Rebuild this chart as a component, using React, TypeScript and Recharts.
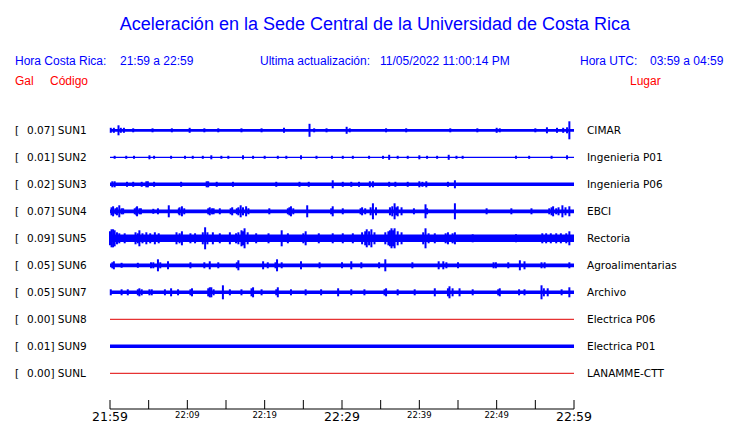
import { Area, ComposedChart, ErrorBar, Line, Scatter, XAxis, YAxis } from "recharts";

const codes = ["SUN1", "SUN2", "SUN3", "SUN4", "SUN5", "SUN6", "SUN7", "SUN8", "SUN9", "SUNL"];
const places = [
  "CIMAR",
  "Ingenieria P01",
  "Ingenieria P06",
  "EBCI",
  "Rectoria",
  "Agroalimentarias",
  "Archivo",
  "Electrica P06",
  "Electrica P01",
  "LANAMME-CTT",
];
const peakGal = [0.07, 0.01, 0.02, 0.07, 0.09, 0.05, 0.05, 0.0, 0.01, 0.0];
// half width of the steady background noise of each trace
const noiseLevel = [1.4, 0.6, 1.8, 1.9, 3.8, 1.9, 1.8, 0, 1.8, 0];

const minuteTicks = [0, 5, 10, 15, 20, 25, 30, 35, 40, 45, 50, 55, 60];
const tickLabels = ["21:59", "", "22:09", "", "22:19", "", "22:29", "", "22:39", "", "22:49", "", "22:59"];
const bigLabels = ["21:59", "22:29", "22:59"];

// bursts: [minute after 21:59, half amplitude]
const sun1Bursts = [
  [0.1, 2.5], [0.5, 2.5], [1.1, 5], [1.4, 2.5], [1.8, 2.5], [3.0, 2], [5.5, 2], [8.0, 2],
  [10.3, 2.5], [12.2, 2], [14.0, 2], [17.0, 2], [19.6, 2], [22.5, 2.5], [25.8, 6.5], [26.4, 2],
  [28.0, 2], [30.6, 3.5], [31.0, 2], [35.7, 2], [38.3, 2], [44.0, 2], [47.5, 2], [50.0, 2.5],
  [50.4, 2], [55.0, 2], [56.5, 3], [57.8, 2.5], [58.6, 2.5], [59.1, 3], [59.4, 9],
];
const sun2Bursts = [
  [0.6, 1.5], [2.1, 1.5], [3.1, 1.5], [5.1, 2], [5.7, 1.5], [7.9, 1.5], [9.7, 1.5], [10.7, 1.5],
  [12.0, 1.5], [13.1, 2], [14.4, 1.5], [15.3, 1.5], [17.2, 2], [18.5, 1.5], [20.0, 1.5], [21.7, 1.5],
  [22.8, 1.5], [24.7, 2], [26.7, 1.5], [28.7, 1.5], [30.1, 1.5], [31.4, 1.5], [33.5, 1.5], [35.3, 1.5],
  [36.1, 2.5], [37.2, 1.5], [38.5, 1.5], [40.0, 2], [41.0, 1.5], [42.3, 1.5], [43.8, 2.5], [44.8, 1.5],
  [45.6, 1.5], [52.5, 1.5], [54.2, 1.5], [57.1, 1.5], [59.1, 2],
];
const sun3Bursts = [
  [0.3, 3], [0.6, 3], [2.2, 2.5], [3.0, 2.5], [4.1, 2.5], [4.7, 3], [4.9, 3], [5.7, 2.5],
  [9.2, 2.5], [12.5, 3], [12.7, 3], [13.8, 2.5], [15.9, 2.5], [21.5, 2.5], [24.5, 2.5], [25.7, 2.5],
  [28.8, 4], [30.1, 2.5], [31.2, 2.5], [32.2, 2.5], [33.6, 3], [34.0, 3], [36.1, 2.5], [36.9, 2.5],
  [38.5, 2.5], [40.0, 3], [40.4, 2.5], [40.9, 3], [43.7, 2.5], [44.6, 4],
];
const sun4Bursts = [
  [0.2, 4], [0.4, 5], [0.7, 3], [0.9, 4], [1.2, 6], [1.5, 3], [1.7, 3], [3.2, 3], [3.4, 4],
  [3.5, 5], [3.8, 3], [4.0, 3], [5.6, 2.5], [6.2, 3], [7.6, 6], [8.9, 3], [9.0, 4], [9.3, 5],
  [9.6, 3], [12.7, 3], [12.9, 4], [13.2, 3], [13.4, 3], [14.2, 3], [15.6, 3], [15.8, 4], [16.4, 3],
  [16.6, 4], [16.9, 6], [17.2, 4], [17.6, 5], [17.9, 3], [20.6, 3], [23.0, 3], [23.2, 4], [23.4, 5],
  [23.7, 3], [25.5, 6], [28.6, 3], [28.8, 5], [30.1, 3], [32.4, 3], [32.6, 4], [33.0, 3], [33.7, 4],
  [34.0, 8], [34.4, 4], [36.2, 4], [36.5, 5], [36.8, 8], [37.0, 4], [37.2, 5], [37.7, 4], [39.3, 3],
  [40.8, 7], [41.0, 3], [44.6, 8], [48.7, 3], [51.9, 3], [54.5, 3], [56.8, 3], [57.1, 4], [57.3, 5],
  [57.7, 3], [58.0, 4], [58.5, 6], [58.9, 4], [59.4, 5],
];
const sun5Bursts = [
  [0.0, 7], [0.2, 9], [0.4, 9], [0.6, 8], [0.9, 6], [1.2, 5], [1.9, 5], [3.3, 6], [3.6, 5],
  [3.8, 8], [4.2, 5], [4.7, 6], [5.2, 5], [5.8, 6], [6.3, 5], [8.6, 6], [9.0, 5], [9.3, 7], [10.4, 5],
  [11.0, 5], [12.0, 6], [12.3, 11], [12.6, 6], [13.3, 6], [14.2, 5], [15.5, 6], [16.3, 5], [16.6, 6],
  [17.0, 8], [17.2, 7], [17.4, 10], [17.8, 6], [18.9, 5], [20.5, 5], [22.2, 8], [23.0, 5], [25.0, 5],
  [25.3, 7], [27.0, 5], [28.8, 5], [30.1, 5], [31.4, 5], [32.6, 6], [33.0, 7], [33.2, 9], [33.5, 7],
  [33.8, 9], [34.2, 6], [35.6, 6], [36.0, 7], [36.2, 8], [36.4, 10], [36.6, 8], [36.8, 10], [37.2, 7],
  [37.7, 6], [40.5, 6], [40.8, 10], [41.2, 5], [42.0, 5], [43.4, 5], [43.7, 6], [44.3, 5], [44.6, 6],
  [46.9, 4], [52.5, 4], [55.9, 5], [56.4, 5], [57.0, 5], [57.7, 5], [58.3, 5], [59.0, 5], [59.4, 7],
];
const sun6Bursts = [
  [0.3, 3], [0.5, 4], [1.5, 2.5], [3.6, 2.5], [5.3, 3], [5.6, 3], [6.2, 6], [6.5, 3], [7.5, 4],
  [10.4, 3], [12.2, 3], [12.9, 4], [14.0, 3], [16.4, 3], [16.6, 5], [19.8, 4], [20.4, 3], [21.4, 3],
  [21.6, 6], [22.2, 3], [24.7, 4], [27.1, 3], [30.0, 3], [31.2, 4], [32.5, 3], [34.8, 3], [35.6, 6],
  [39.1, 3], [42.5, 4], [43.1, 4], [43.5, 3], [45.0, 3], [49.6, 3], [49.9, 3], [51.5, 3], [53.0, 5],
  [53.6, 4], [55.8, 3], [56.2, 3], [59.4, 3],
];
const sun7Bursts = [
  [0.1, 3], [1.5, 3], [2.3, 3], [3.6, 3], [3.8, 4], [4.1, 3], [5.1, 3], [5.4, 3], [7.1, 3],
  [7.9, 4], [8.8, 3], [10.4, 3], [10.6, 4], [12.7, 4], [12.9, 5], [13.1, 5], [13.4, 3], [14.6, 7],
  [15.5, 3], [17.0, 3], [18.3, 4], [18.5, 5], [19.6, 3], [21.5, 3], [21.7, 5], [23.4, 3], [25.3, 3],
  [27.3, 3], [29.5, 4], [31.2, 3], [32.9, 3], [35.5, 3], [35.7, 4], [37.2, 3], [39.4, 3], [42.0, 4],
  [43.7, 4], [43.9, 6], [44.3, 4], [45.2, 4], [46.9, 3], [50.2, 3], [50.4, 4], [52.9, 3], [53.6, 3],
  [55.8, 7], [56.1, 4], [56.6, 4], [58.4, 3], [59.4, 5],
];
const sun9Bursts: number[][] = [];
const quietBursts: number[][] = [];
const bursts = [
  sun1Bursts, sun2Bursts, sun3Bursts, sun4Bursts, sun5Bursts,
  sun6Bursts, sun7Bursts, quietBursts, sun9Bursts, quietBursts,
];

const ROW_GAP = 27;
const BLUE = "#0000ff";
const RED = "#ff0000";

const rows = codes.map((code, i) => {
  const y = i * ROW_GAP;
  const level = noiseLevel[i];
  return {
    code,
    y,
    level,
    band: [
      { t: 0, band: [y - level, y + level] },
      { t: 60, band: [y - level, y + level] },
    ],
    trace: [{ t: 0, y }, { t: 60, y }],
    spikes: bursts[i].map(([t, amp]) => ({ t, y, amp })),
  };
});

function LeftTick({ y, payload }: any) {
  const i = Math.round(payload.value / ROW_GAP);
  return (
    <text y={y} dy="0.36em" fontSize={10.5} fontFamily="DejaVu Sans" fill="#000">
      <tspan x={15}>[</tspan>
      <tspan x={27}>{peakGal[i].toFixed(2) + "] " + codes[i]}</tspan>
    </text>
  );
}

function RightTick({ x, y, payload }: any) {
  const i = Math.round(payload.value / ROW_GAP);
  return (
    <text x={x} y={y} dy="0.36em" textAnchor="start" fontSize={10.5} fontFamily="DejaVu Sans" fill="#000">
      {places[i]}
    </text>
  );
}

function TimeTick({ x, y, index }: any) {
  const label = tickLabels[index] ?? "";
  const big = bigLabels.includes(label);
  return (
    <g>
      <line x1={x} x2={x} y1={y - 9} y2={y} stroke="#000" />
      {label && (
        <text
          x={x}
          y={y + (big ? 12 : 9)}
          textAnchor="middle"
          fontSize={big ? 12.5 : 8.5}
          fontFamily="DejaVu Sans"
          fill="#000"
        >
          {label}
        </text>
      )}
    </g>
  );
}

export default function App() {
  const domain: [number, number] = [-27.3, 278.7];
  return (
    <div style={{ position: "absolute", left: 0, top: 0, width: 740, height: 423, background: "#fff" }}>
      <ComposedChart width={740} height={423} margin={{ top: 103, right: 0, bottom: 0, left: 0 }}>
        <XAxis
          type="number"
          dataKey="t"
          domain={[0, 60]}
          ticks={minuteTicks}
          allowDataOverflow
          height={14}
          tickSize={0}
          tickMargin={0}
          tickLine={false}
          axisLine={{ stroke: "#000" }}
          tick={(p: any) => <TimeTick {...p} />}
          interval={0}
        />
        <YAxis
          yAxisId="l"
          type="number"
          domain={domain}
          reversed
          allowDataOverflow
          ticks={rows.map((r) => r.y)}
          width={110}
          axisLine={false}
          tickLine={false}
          interval={0}
          tick={(p: any) => <LeftTick {...p} />}
        />
        <YAxis
          yAxisId="r"
          orientation="right"
          type="number"
          domain={domain}
          reversed
          allowDataOverflow
          ticks={rows.map((r) => r.y)}
          width={166}
          axisLine={false}
          tickLine={false}
          tickSize={0}
          tickMargin={13}
          interval={0}
          tick={(p: any) => <RightTick {...p} />}
        />
        {rows.map((r) =>
          r.level > 0 ? (
            <Area
              key={"band" + r.code}
              yAxisId="l"
              data={r.band}
              dataKey="band"
              type="linear"
              stroke="none"
              fill={BLUE}
              fillOpacity={1}
              isAnimationActive={false}
            />
          ) : (
            <Line
              key={"line" + r.code}
              yAxisId="l"
              data={r.trace}
              dataKey="y"
              type="linear"
              stroke="#e00000"
              strokeWidth={1}
              dot={false}
              isAnimationActive={false}
            />
          )
        )}
        {rows
          .filter((r) => r.spikes.length > 0)
          .map((r) => (
            <Scatter
              key={"spk" + r.code}
              yAxisId="l"
              data={r.spikes}
              dataKey="y"
              fill={BLUE}
              shape={() => <g />}
              isAnimationActive={false}
            >
              <ErrorBar dataKey="amp" direction="y" width={0} stroke={BLUE} strokeWidth={2} isAnimationActive={false} />
            </Scatter>
          ))}
      </ComposedChart>
      <svg
        width={740}
        height={423}
        style={{ position: "absolute", left: 0, top: 0, pointerEvents: "none" }}
        fontFamily="Liberation Sans"
      >
        <text x={375} y={30} textAnchor="middle" fontSize={18} fill={BLUE}>
          Aceleración en la Sede Central de la Universidad de Costa Rica
        </text>
        <g fontSize={12} fill={BLUE}>
          <text x={15} y={65}>Hora Costa Rica:</text>
          <text x={120} y={65}>21:59 a 22:59</text>
          <text x={260} y={65}>Ultima actualización:</text>
          <text x={380} y={65}>11/05/2022 11:00:14 PM</text>
          <text x={580} y={65}>Hora UTC:</text>
          <text x={650} y={65}>03:59 a 04:59</text>
        </g>
        <g fontSize={12} fill={RED}>
          <text x={15} y={85}>Gal</text>
          <text x={50} y={85}>Código</text>
          <text x={630} y={85}>Lugar</text>
        </g>
      </svg>
    </div>
  );
}
